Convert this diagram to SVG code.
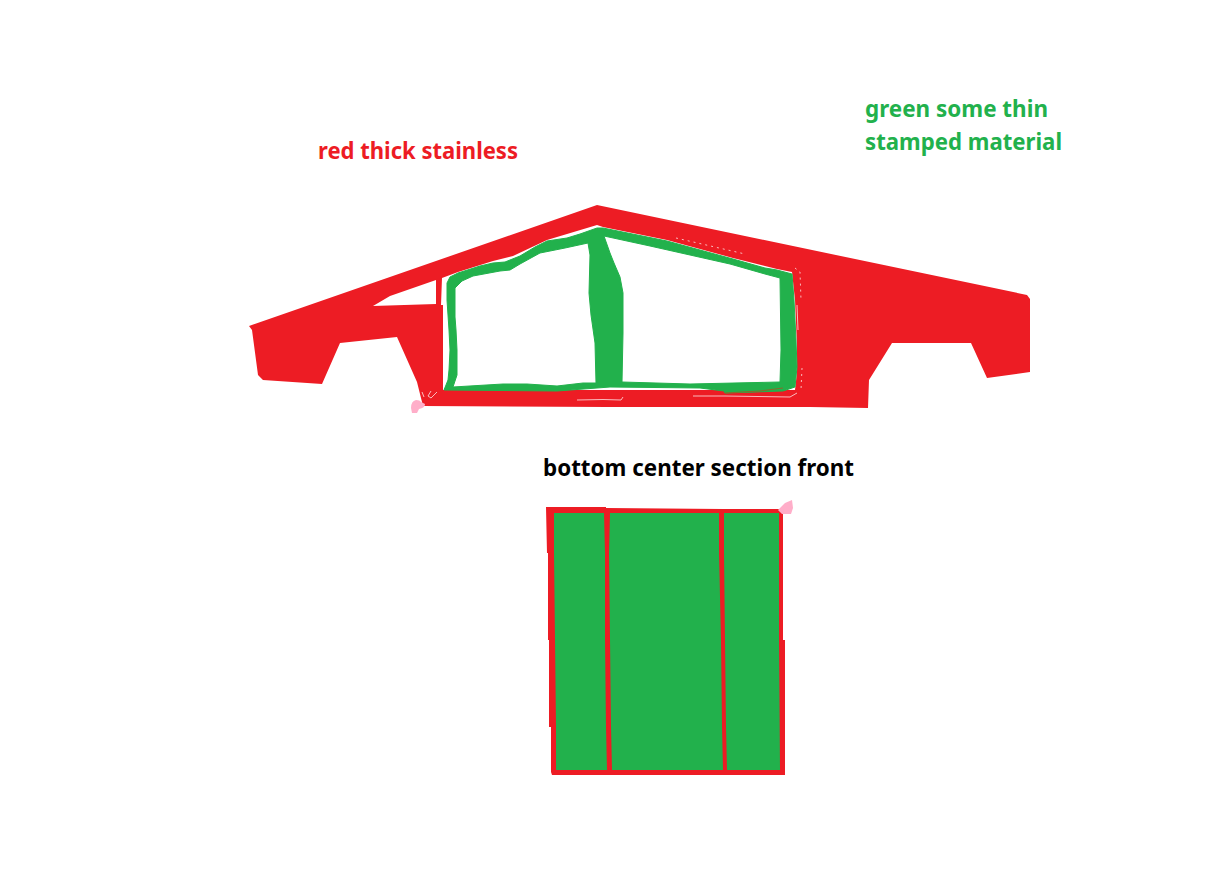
<svg xmlns="http://www.w3.org/2000/svg" width="1217" height="882" viewBox="0 0 1217 882">
  <style>
    .red { fill: #ED1C24; }
    .green { fill: #22B14C; }
    .pink { fill: #FFAEC9; }
    .seam { fill: none; stroke: #FFFFFF; stroke-width: 0.7; }
    .label { font-family: "Noto Sans", "Open Sans", sans-serif; font-weight: 700; font-size: 22.5px; }
  </style>
  <rect width="1217" height="882" fill="#FFFFFF"/>

  <!-- Captions -->
  <g id="captions">
    <text class="label" fill="#ED1C24" x="318" y="159" textLength="200" lengthAdjust="spacingAndGlyphs">red thick stainless</text>
    <text class="label" fill="#22B14C" x="865" y="117" textLength="183" lengthAdjust="spacingAndGlyphs">green some thin</text>
    <text class="label" fill="#22B14C" x="865" y="150" textLength="197" lengthAdjust="spacingAndGlyphs">stamped material</text>
    <text class="label" fill="#000000" x="543" y="476" textLength="311" lengthAdjust="spacingAndGlyphs">bottom center section front</text>
  </g>

  <!-- Side view: body shell with the quarter glass and door openings cut out -->
  <g id="body-shell">
    <path class="red" fill-rule="evenodd" d="M249 326 L597 205 L1027 295 L1030 299 L1030 372 L987 378 L971 343 L892 343 L869 380 L868 408 L810 407 L608 407 L423 406 L417 382 L397 337 L340 343 L322 384 L263 380 L258 375 L252 330 Z
      M373 306 L390 296 L436 280 L436 304 Z
      M442 278 L458 272 L493 261 L513 256 L547 240 L597 225 L603 227 L667 240 L733 258 L777 269 L792 272 L795 300 L797 345 L797 372 L795 390 L443 390 L443 305 L441 305 Z"/>
    <path class="seam" d="M422 392 L424 397 M431 391 L428 396 L431 398 L437 392"/>
    <path class="seam" d="M577 400 L603 399.500 L621 400 L623 397"/>
    <path class="seam" d="M693 396 L725 396 L790 397 L797 393"/>
    <path class="seam" stroke-dasharray="2 4" d="M676 238 L745 254 M795 268 L800 272 L801 300 M802 368 L801 390"/>
    <path class="seam" d="M797 305 L798 330"/>
  </g>

  <!-- Side view: thin stamped frame around the two windows -->
  <g id="window-frame">
    <path class="green" stroke="#22B14C" stroke-width="1" stroke-linejoin="round" fill-rule="evenodd" d="M447 283 L450 277 L458 273 L480 266 L493 263 L505 262 L520 256 L535 247 L547 241 L567 238 L580 234 L597 228 L603 228 L667 241 L700 250 L733 259 L765 268 L777 270 L792 274 L794 300 L796 340 L797 367 L795 387 L783 391 L725 393 L724 391 L700 388 L610 387 L597 388 L557 391 L444 390 L448 380 L449 370 L450 350 L449 330 L447 300 Z
      M455 288 L462 281 L473 276 L500 271 L510 270 L520 264 L540 253 L565 248 L588 243 L590 255 L589 293 L591 315 L595 343 L596 383 L583 383 L557 386 L527 384 L503 384 L453 387 L457 375 L457 350 L456 330 L455 317 Z
      M604 236 L650 246 L690 255 L730 264 L765 274 L780 278 L781 350 L780 382 L690 384 L622 382 L623 333 L623 293 L620 277 L614 263 L610 253 Z"/>
    <path d="M725 393 L760 391 L783 388" fill="none" stroke="#8a6a2a" stroke-width="1"/>
  </g>

  <g id="front-touch-up">
    <path class="pink" d="M411 408 Q411 401 416 400 Q420 400 421 402 L425 404 Q425 408 419 409 L417 413 L412 413 Z"/>
  </g>

  <!-- Front view of the bottom centre section -->
  <g id="bottom-section">
    <rect class="green" x="552" y="511" width="229" height="260"/>
    <path class="red" fill-rule="evenodd" d="M546 507 L606 507 L606 508 L723 509 L783 509 L783 640 L785 640 L785 775 L552 775 L551 772 L551 727 L549 727 L549 640 L548 640 L548 553 L547 553 Z
      M554 513 L604 513 L605 553 L605 640 L606 727 L607 770 L556 770 L556 727 L555 640 L554 553 Z
      M610 513 L719 513 L719 553 L721 640 L722 727 L723 770 L612 770 L611 727 L610 640 L609 553 Z
      M724 513 L779 513 L779 640 L780 770 L727 770 L726 727 L725 640 L724 553 Z"/>
    <path class="pink" d="M778 510 L785 503 L792 500 L793 508 L791 514 L782 514 Z"/>
  </g>
</svg>
